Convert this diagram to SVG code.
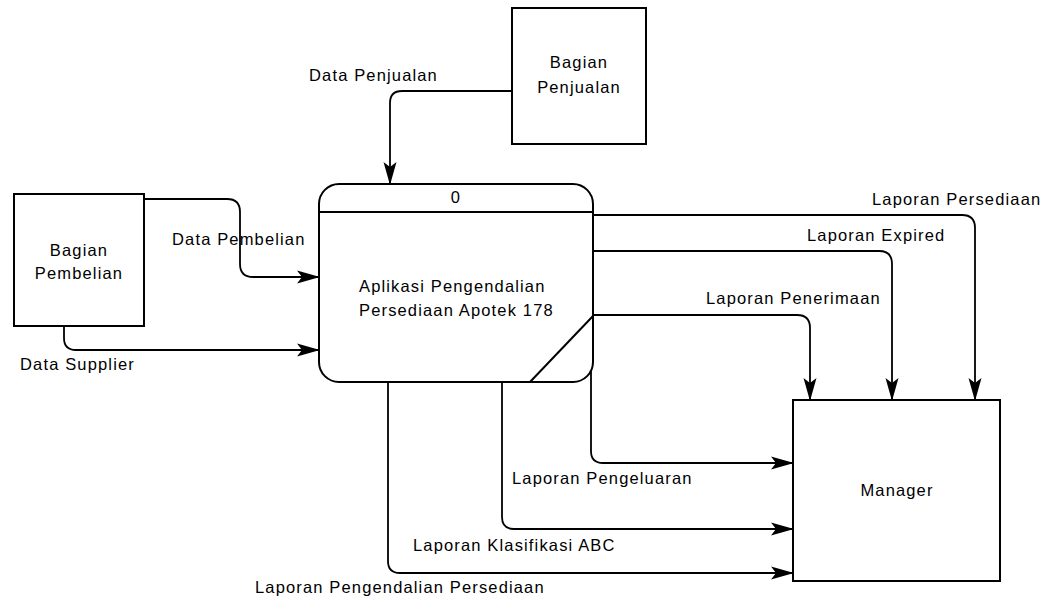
<svg xmlns="http://www.w3.org/2000/svg" width="1055" height="599" viewBox="0 0 1055 599">
<style>
.box{fill:#fff;stroke:#000;stroke-width:2}
.ln{fill:none;stroke:#000;stroke-width:1.8;marker-end:url(#arr)}
.t{font-family:"Liberation Sans",Arial,sans-serif;font-size:16.5px;letter-spacing:1.15px;fill:#000}
.c{text-anchor:middle}
</style>
<defs>
<marker id="arr" markerWidth="24" markerHeight="14" refX="22" refY="7" orient="auto" markerUnits="userSpaceOnUse" viewBox="0 0 24 14">
<path d="M0,0.5 L23,7 L0,13.5 L5,7 Z" fill="#000"/>
</marker>
</defs>
<rect width="1055" height="599" fill="#fff"/>
<g id="connectors">
<path class="ln" d="M512,91 H402 Q390,91 390,103 V184"/>
<path class="ln" d="M144,199 H227 Q240,199 240,212 V264 Q240,277 253,277 H319"/>
<path class="ln" d="M64,326 V338 Q64,350 76,350 H319"/>
<path class="ln" d="M593,215 H962 Q975,215 975,228 V400"/>
<path class="ln" d="M593,251 H879 Q892,251 892,264 V400"/>
<path class="ln" d="M593,315 H797 Q810,315 810,328 V400"/>
<path class="ln" d="M591,366 V451 Q591,463 603,463 H793"/>
<path class="ln" d="M502,382 V517 Q502,529 514,529 H793"/>
<path class="ln" d="M388,382 V561 Q388,573 400,573 H793"/>
<text class="t" x="309" y="81">Data Penjualan</text>
<text class="t" x="172" y="245">Data Pembelian</text>
<text class="t" x="20" y="370">Data Supplier</text>
<text class="t" x="872" y="205">Laporan Persediaan</text>
<text class="t" x="807" y="241">Laporan Expired</text>
<text class="t" x="706" y="304">Laporan Penerimaan</text>
<text class="t" x="512" y="484">Laporan Pengeluaran</text>
<text class="t" x="413" y="551">Laporan Klasifikasi ABC</text>
<text class="t" x="255" y="593">Laporan Pengendalian Persediaan</text>
</g>
<g id="process0">
<rect class="box" x="319" y="184" width="274" height="198" rx="20" ry="20"/>
<line x1="319" y1="212" x2="593" y2="212" stroke="#000" stroke-width="2"/>
<line x1="593" y1="316" x2="530" y2="382" stroke="#000" stroke-width="2"/>
<text class="t c" x="456" y="203">0</text>
<text class="t" x="359" y="292">Aplikasi Pengendalian</text>
<text class="t" x="359" y="316">Persediaan Apotek 178</text>
</g>
<g id="bagian-pembelian">
<rect class="box" x="14" y="194" width="130" height="132"/>
<text class="t c" x="79" y="256">Bagian</text>
<text class="t c" x="79" y="279">Pembelian</text>
</g>
<g id="bagian-penjualan">
<rect class="box" x="512" y="8" width="134" height="136"/>
<text class="t c" x="579" y="68">Bagian</text>
<text class="t c" x="579" y="93">Penjualan</text>
</g>
<g id="manager">
<rect class="box" x="793" y="400" width="207" height="181"/>
<text class="t c" x="897" y="496">Manager</text>
</g>
</svg>
